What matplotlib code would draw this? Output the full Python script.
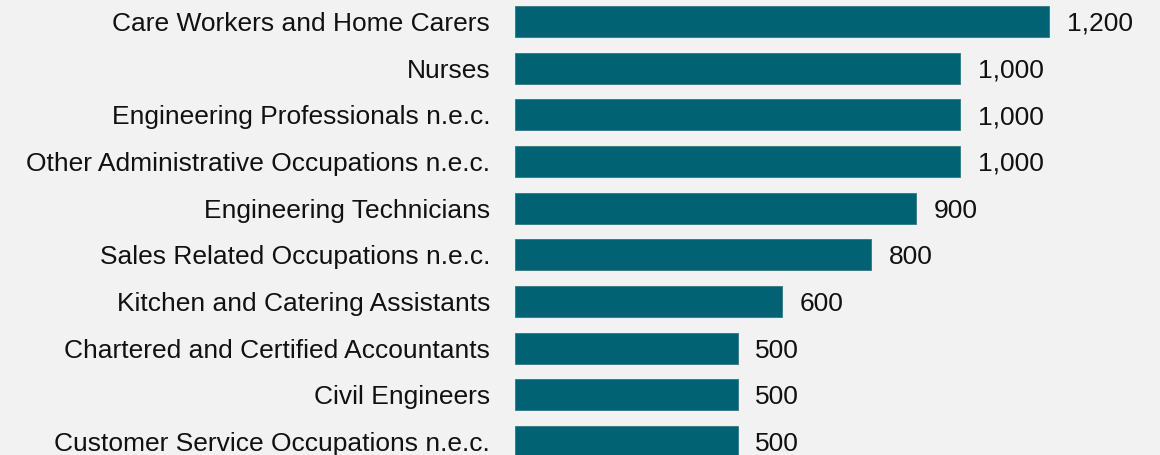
import numpy as np
import matplotlib.pyplot as plt

plt.rcParams['font.family'] = ['Liberation Sans', 'DejaVu Sans']

occupations = [
    "Care Workers and Home Carers",
    "Nurses",
    "Engineering Professionals n.e.c.",
    "Other Administrative Occupations n.e.c.",
    "Engineering Technicians",
    "Sales Related Occupations n.e.c.",
    "Kitchen and Catering Assistants",
    "Chartered and Certified Accountants",
    "Civil Engineers",
    "Customer Service Occupations n.e.c.",
]
vacancies = [1200, 1000, 1000, 1000, 900, 800, 600, 500, 500, 500]

bg = '#f2f2f2'
bar_col = '#006272'

fig = plt.figure(figsize=(11.6, 4.55), dpi=100, facecolor=bg)
ax = fig.add_axes([0.444, 0, 0.556, 1])
ax.set_facecolor(bg)

y = np.arange(len(occupations))
ax.barh(y, vacancies, height=0.66, color=bar_col, edgecolor='#2a7a86', linewidth=0.6)

for yi, v in zip(y, vacancies):
    ax.text(v + 40, yi, f"{v:,}", va='center_baseline', ha='left', fontsize=19, color='#111111')

ax.set_yticks(y)
ax.set_yticklabels(occupations, fontsize=19, color='#111111', va='center_baseline')
ax.tick_params(axis='y', length=0, pad=18)
ax.set_xticks([])
ax.set_xlim(0, 1449)
ax.set_ylim(9.29, -0.46)
for s in ax.spines.values():
    s.set_visible(False)

fig.savefig('out.png', dpi=100, facecolor=bg)
